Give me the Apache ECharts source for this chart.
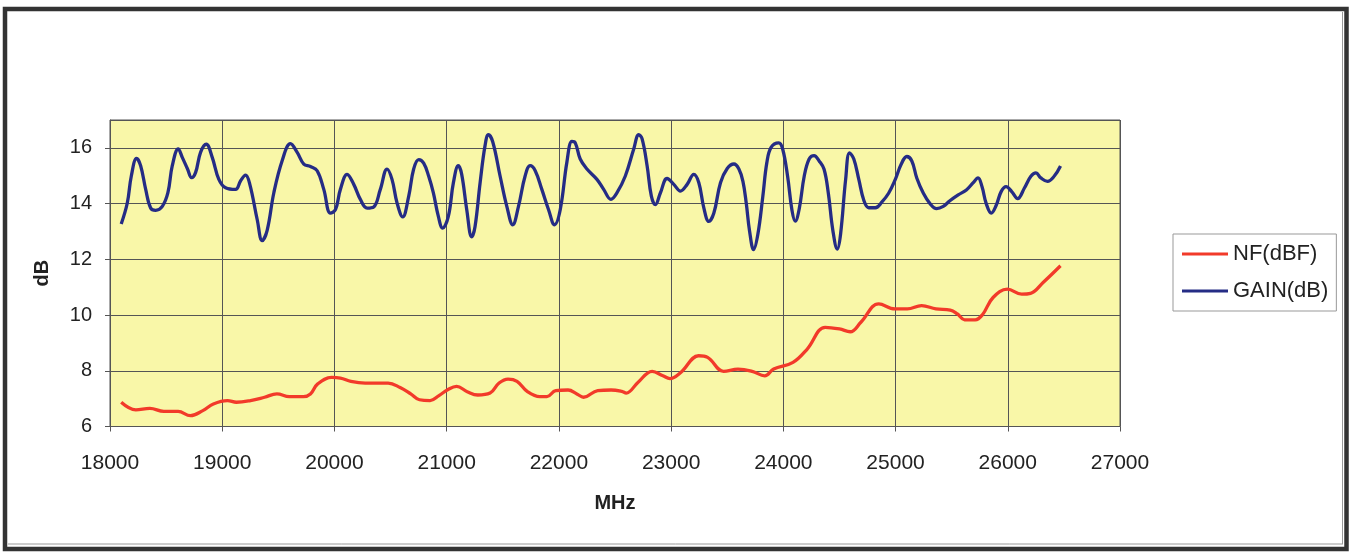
<!DOCTYPE html>
<html>
<head>
<meta charset="utf-8">
<script src="https://cdn.jsdelivr.net/npm/echarts@6/dist/echarts.min.js"></script>
<style>
  html, body { margin: 0; padding: 0; background: #ffffff; }
  #chart { width: 1349px; height: 552px; }
</style>
</head>
<body>
<div id="chart"></div>
<script>
const xTicks = [18000, 19000, 20000, 21000, 22000, 23000, 24000, 25000, 26000, 27000];
const yTicks = [6, 8, 10, 12, 14, 16];

const nfFreq = [18100, 18230, 18355, 18480, 18607, 18717, 18827, 18921, 19047, 19126, 19252, 19377, 19487, 19598, 19723, 19786, 19849, 19975, 20053, 20147, 20274, 20478, 20585, 20680, 20758, 20852, 20931, 21009, 21088, 21183, 21277, 21387, 21467, 21547, 21627, 21720, 21830, 21893, 21972, 22082, 22160, 22220, 22346, 22465, 22561, 22600, 22704, 22831, 22927, 22990, 23086, 23245, 23325, 23468, 23596, 23723, 23834, 23914, 24086, 24213, 24373, 24500, 24596, 24691, 24850, 24994, 25105, 25232, 25360, 25487, 25551, 25615, 25710, 25774, 25869, 25997, 26124, 26203, 26315, 26470];
const nfVals = [6.87, 6.60, 6.65, 6.54, 6.54, 6.39, 6.57, 6.81, 6.93, 6.87, 6.93, 7.05, 7.17, 7.07, 7.07, 7.17, 7.52, 7.76, 7.74, 7.62, 7.56, 7.56, 7.40, 7.17, 6.96, 6.93, 7.11, 7.32, 7.44, 7.25, 7.13, 7.20, 7.56, 7.70, 7.62, 7.25, 7.07, 7.07, 7.29, 7.31, 7.17, 7.05, 7.29, 7.31, 7.26, 7.20, 7.58, 7.98, 7.82, 7.72, 7.94, 8.54, 8.48, 7.98, 8.06, 7.98, 7.82, 8.06, 8.30, 8.78, 9.56, 9.50, 9.40, 9.74, 10.40, 10.22, 10.22, 10.34, 10.22, 10.18, 10.04, 9.83, 9.83, 10.01, 10.63, 10.93, 10.75, 10.78, 11.17, 11.77];

const gainFreq = [18100, 18154, 18190, 18237, 18273, 18318, 18362, 18407, 18466, 18516, 18555, 18608, 18644, 18690, 18727, 18763, 18807, 18858, 18911, 18970, 19030, 19119, 19163, 19208, 19246, 19312, 19356, 19401, 19460, 19534, 19608, 19668, 19727, 19786, 19846, 19905, 19964, 20009, 20053, 20113, 20172, 20231, 20291, 20350, 20409, 20469, 20513, 20558, 20608, 20662, 20706, 20751, 20795, 20840, 20881, 20926, 20964, 21015, 21060, 21104, 21134, 21179, 21223, 21253, 21298, 21342, 21372, 21411, 21476, 21536, 21589, 21640, 21699, 21744, 21789, 21848, 21908, 21961, 22012, 22071, 22116, 22146, 22190, 22250, 22339, 22399, 22464, 22518, 22592, 22667, 22711, 22741, 22786, 22824, 22860, 22905, 22964, 23024, 23083, 23143, 23202, 23247, 23292, 23336, 23381, 23440, 23500, 23560, 23604, 23640, 23670, 23699, 23735, 23773, 23817, 23853, 23891, 23959, 23994, 24038, 24077, 24106, 24142, 24186, 24230, 24274, 24319, 24363, 24401, 24442, 24481, 24510, 24555, 24590, 24628, 24673, 24717, 24761, 24820, 24879, 24938, 24997, 25050, 25100, 25145, 25189, 25248, 25307, 25366, 25425, 25484, 25558, 25631, 25690, 25735, 25770, 25808, 25853, 25897, 25941, 25985, 26035, 26088, 26147, 26206, 26251, 26295, 26354, 26413, 26470];
const gainVals = [13.27, 14.02, 14.99, 15.62, 15.36, 14.51, 13.84, 13.76, 13.90, 14.39, 15.36, 15.96, 15.66, 15.25, 14.93, 15.12, 15.84, 16.13, 15.66, 14.87, 14.57, 14.51, 14.81, 15.02, 14.69, 13.42, 12.67, 13.05, 14.39, 15.54, 16.15, 15.84, 15.42, 15.33, 15.18, 14.51, 13.66, 13.78, 14.51, 15.05, 14.69, 14.15, 13.84, 13.88, 14.51, 15.24, 14.87, 14.02, 13.52, 14.27, 15.24, 15.58, 15.45, 14.98, 14.39, 13.54, 13.12, 13.54, 14.75, 15.36, 15.05, 13.78, 12.81, 13.18, 14.75, 16.08, 16.47, 16.21, 14.99, 13.90, 13.24, 13.90, 14.99, 15.36, 15.18, 14.51, 13.78, 13.24, 13.78, 15.48, 16.23, 16.18, 15.60, 15.24, 14.87, 14.51, 14.15, 14.39, 14.99, 15.96, 16.47, 16.33, 15.36, 14.27, 13.96, 14.39, 14.90, 14.69, 14.45, 14.69, 15.05, 14.75, 13.84, 13.36, 13.66, 14.75, 15.26, 15.42, 15.24, 14.80, 14.00, 13.02, 12.35, 12.90, 14.25, 15.47, 16.02, 16.18, 15.96, 14.98, 13.76, 13.37, 13.82, 14.98, 15.60, 15.72, 15.53, 15.23, 14.37, 13.02, 12.37, 12.90, 14.86, 15.82, 15.60, 14.86, 14.12, 13.85, 13.85, 14.06, 14.37, 14.86, 15.41, 15.69, 15.53, 14.92, 14.37, 14.00, 13.82, 13.90, 14.10, 14.31, 14.49, 14.74, 14.92, 14.61, 14.00, 13.66, 13.94, 14.43, 14.61, 14.43, 14.18, 14.55, 14.98, 15.10, 14.92, 14.80, 14.98, 15.35];

const pairs = (xs, ys) => xs.map((x, i) => [x, ys[i]]);
const FONT = '"Liberation Sans", Arial, sans-serif';
const NF_COLOR = '#f23a2a';
const GAIN_COLOR = '#252c85';

const chart = echarts.init(document.getElementById('chart'), null, { renderer: 'canvas' });
chart.setOption({
  animation: false,
  backgroundColor: '#ffffff',
  textStyle: { fontFamily: FONT },
  graphic: [
    { type: 'rect', shape: { x: 5, y: 9, width: 1341.5, height: 540 }, style: { fill: 'none', stroke: '#333333', lineWidth: 4.5 }, z: 100 },
    { type: 'line', shape: { x1: 8, y1: 544, x2: 1343, y2: 544 }, style: { stroke: '#999999', lineWidth: 1 }, z: 100 },
    { type: 'line', shape: { x1: 1342.5, y1: 12, x2: 1342.5, y2: 544 }, style: { stroke: '#999999', lineWidth: 1 }, z: 100 }
  ],
  grid: {
    left: 110, right: 229, top: 120, bottom: 125.5,
    show: true, backgroundColor: '#f9f7a8', borderColor: '#555555', borderWidth: 1
  },
  legend: {
    orient: 'vertical',
    left: 1173, top: 234,
    padding: [8, 8, 8, 9],
    itemGap: 13,
    itemWidth: 46, itemHeight: 3,
    icon: 'rect',
    borderColor: '#999999', borderWidth: 1,
    backgroundColor: '#ffffff',
    textStyle: { fontFamily: FONT, fontSize: 22, color: '#222222', lineHeight: 24 },
    data: ['NF(dBF)', 'GAIN(dB)']
  },
  xAxis: {
    type: 'value',
    min: xTicks[0], max: xTicks[xTicks.length - 1], interval: 1000,
    name: 'MHz', nameLocation: 'middle', nameGap: 67,
    nameTextStyle: { fontFamily: FONT, fontSize: 20, fontWeight: 'bold', color: '#222222' },
    axisLine: { show: true, lineStyle: { color: '#555555', width: 1 } },
    axisTick: { show: true, length: 5, lineStyle: { color: '#555555' } },
    axisLabel: { fontFamily: FONT, fontSize: 21, color: '#222222', margin: 26, formatter: v => String(v) },
    splitLine: { show: true, lineStyle: { color: '#555555', width: 1 } }
  },
  yAxis: {
    type: 'value',
    min: yTicks[0], max: 17, interval: 2,
    name: 'dB', nameLocation: 'middle', nameGap: 58,
    nameTextStyle: { fontFamily: FONT, fontSize: 20, fontWeight: 'bold', color: '#222222' },
    axisLine: { show: true, lineStyle: { color: '#555555', width: 1 } },
    axisTick: { show: true, length: 5, lineStyle: { color: '#555555' } },
    axisLabel: { fontFamily: FONT, fontSize: 20, color: '#222222', margin: 18, showMaxLabel: false },
    splitLine: { show: true, lineStyle: { color: '#555555', width: 1 } }
  },
  series: [
    {
      name: 'NF(dBF)', type: 'line', data: pairs(nfFreq, nfVals),
      symbol: 'none', smooth: 0.4,
      lineStyle: { color: NF_COLOR, width: 3.3 }, itemStyle: { color: NF_COLOR }
    },
    {
      name: 'GAIN(dB)', type: 'line', data: pairs(gainFreq, gainVals),
      symbol: 'none', smooth: 0.4,
      lineStyle: { color: GAIN_COLOR, width: 3.3 }, itemStyle: { color: GAIN_COLOR }
    }
  ]
});
</script>
</body>
</html>
